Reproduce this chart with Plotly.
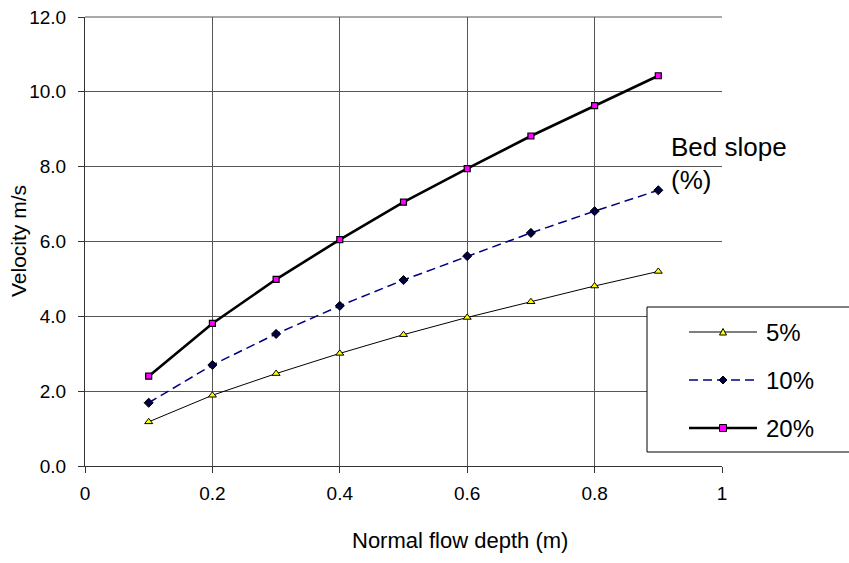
import plotly.graph_objects as go

# Flow velocity vs. normal flow depth for three bed slopes
depth = [0.1, 0.2, 0.3, 0.4, 0.5, 0.6, 0.7, 0.8, 0.9]
vel_5 = [1.18, 1.89, 2.47, 3.01, 3.51, 3.97, 4.39, 4.81, 5.20]
vel_10 = [1.69, 2.70, 3.53, 4.28, 4.97, 5.61, 6.23, 6.81, 7.37]
vel_20 = [2.40, 3.81, 4.99, 6.05, 7.05, 7.95, 8.82, 9.63, 10.43]
series_labels = ["5%", "10%", "20%"]

x_ticks = [0, 0.2, 0.4, 0.6, 0.8, 1]
x_tick_text = ["0", "0.2", "0.4", "0.6", "0.8", "1"]
y_ticks = [0, 2, 4, 6, 8, 10, 12]
y_tick_text = ["0.0", "2.0", "4.0", "6.0", "8.0", "10.0", "12.0"]

FONT = "Liberation Sans, Arial, sans-serif"
W, H = 849, 563
L, R, T, B = 85, 127, 17, 97
PW, PH = W - L - R, H - T - B


def px(x):
    return (x - L) / PW


def py(y):
    return (H - B - y) / PH


styles = [
    dict(line=dict(color="black", width=1),
         marker=dict(symbol="triangle-up", size=7, color="#ffff00",
                     line=dict(color="black", width=1))),
    dict(line=dict(color="#000080", width=1.5, dash="9px,5px"),
         marker=dict(symbol="diamond", size=7, color="#000040",
                     line=dict(color="black", width=1))),
    dict(line=dict(color="black", width=2.6),
         marker=dict(symbol="square", size=6, color="#ff00ff",
                     line=dict(color="black", width=1.2))),
]

fig = go.Figure()
for name, vals, st in zip(series_labels, [vel_5, vel_10, vel_20], styles):
    fig.add_trace(go.Scatter(x=depth, y=vals, mode="lines+markers", name=name,
                             line=st["line"], marker=st["marker"],
                             cliponaxis=False, showlegend=False))

grid = "#555555"
axis_common = dict(showgrid=True, gridcolor=grid, gridwidth=1,
                   showline=True, linecolor="#333333", linewidth=1,
                   ticks="outside", ticklen=6, tickcolor="#333333",
                   zeroline=False, automargin=False,
                   tickfont=dict(size=19))
fig.update_layout(
    width=W, height=H,
    margin=dict(l=L, r=R, t=T, b=B, pad=0, autoexpand=False),
    paper_bgcolor="white", plot_bgcolor="white",
    font=dict(family=FONT, size=19, color="black"),
    xaxis=dict(range=[0, 1], tickvals=x_ticks, ticktext=x_tick_text,
               ticklabelstandoff=4, **axis_common),
    yaxis=dict(range=[0, 12], tickvals=y_ticks, ticktext=y_tick_text,
               ticklabelstandoff=8, **axis_common),
)

# Top frame line of the plot area
fig.add_shape(type="line", xref="paper", yref="paper", x0=0, x1=1, y0=1, y1=1,
              line=dict(color=grid, width=1))

annotations = [
    dict(text="Normal flow depth (m)", x=px(460), y=py(540), xanchor="center",
         yanchor="middle", font=dict(size=22)),
    dict(text="Velocity m/s", x=px(18), y=py(241), xanchor="center",
         yanchor="middle", textangle=-90, font=dict(size=21)),
    dict(text="Bed slope", x=px(669), y=py(147), xanchor="left",
         yanchor="middle", font=dict(size=26)),
    dict(text="(%)", x=px(669), y=py(180), xanchor="left",
         yanchor="middle", font=dict(size=26)),
]

# Legend box
fig.add_shape(type="rect", xref="paper", yref="paper",
              x0=px(647), x1=px(880), y0=py(452), y1=py(307),
              line=dict(color="black", width=1), fillcolor="white", layer="above")

row_y = [332, 380, 428]
marker_paths = [
    "M-3.5,-3 L3.5,-3 L0,3.5 Z",
    "M0,-4 L4,0 L0,4 L-4,0 Z",
    "M-3.5,-3.5 L3.5,-3.5 L3.5,3.5 L-3.5,3.5 Z",
]
for name, st, ry, path in zip(series_labels, styles, row_y, marker_paths):
    ln = st["line"]
    fig.add_shape(type="line", xref="paper", yref="paper",
                  x0=px(689), x1=px(757), y0=py(ry), y1=py(ry),
                  line=dict(color=ln["color"], width=ln["width"],
                            dash=ln.get("dash", "solid")), layer="above")
    fig.add_shape(type="path", xref="paper", yref="paper",
                  xsizemode="pixel", ysizemode="pixel",
                  xanchor=px(723), yanchor=py(ry), path=path,
                  fillcolor=st["marker"]["color"],
                  line=dict(color="black", width=1), layer="above")
    annotations.append(dict(text=name, x=px(764), y=py(ry), xanchor="left",
                            yanchor="middle", font=dict(size=24)))

for a in annotations:
    a.update(xref="paper", yref="paper", showarrow=False)
fig.update_layout(annotations=annotations)

fig.write_html("out.html")
